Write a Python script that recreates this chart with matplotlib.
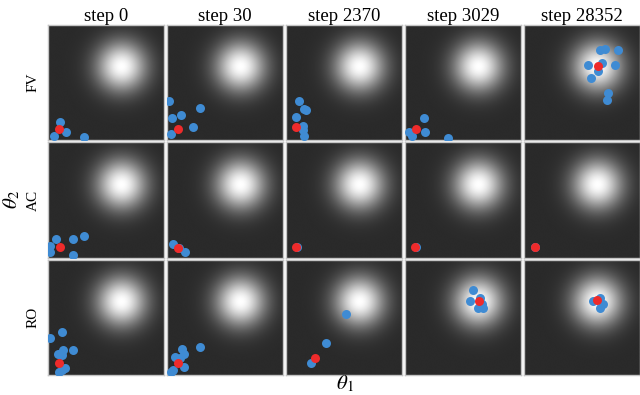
"""Particle positions over the reward landscape, three methods by five training steps."""

import matplotlib
matplotlib.use("Agg")
import matplotlib.pyplot as plt
import numpy as np

plt.rcParams["font.family"] = ["Liberation Serif", "DejaVu Serif"]
plt.rcParams["mathtext.fontset"] = "stix"

STEPS = ["step 0", "step 30", "step 2370", "step 3029", "step 28352"]
METHODS = ["FV", "AC", "RO"]

GOAL = (0.635, 0.635)      # centre of the bright reward bump
WIDTH = 0.15

BLUE, RED = "#3f8bd3", "#ee2b2b"

# blue particles, (theta1, theta2) per panel, rows = methods, columns = steps
BLUE_X = [
    [[0.10, 0.05, 0.15, 0.31],
     [0.01, 0.04, 0.12, 0.28, 0.22, 0.03],
     [0.11, 0.15, 0.17, 0.08, 0.14, 0.14, 0.155],
     [0.16, 0.17, 0.035, 0.06, 0.37],
     [0.655, 0.70, 0.81, 0.67, 0.55, 0.785, 0.64, 0.58, 0.725, 0.715]],
    [[0.063, 0.21, 0.31, 0.014, 0.014, 0.21],
     [0.05, 0.155, 0.10],
     [0.095], [0.095], [0.095]],
    [[0.12, 0.01, 0.13, 0.21, 0.08, 0.12, 0.12, 0.14, 0.095],
     [0.28, 0.13, 0.07, 0.14, 0.11, 0.14, 0.05, 0.03],
     [0.52, 0.34, 0.215],
     [0.585, 0.56, 0.645, 0.63, 0.67, 0.665],
     [0.595, 0.655, 0.68, 0.655]],
]
BLUE_Y = [
    [[0.16, 0.04, 0.07, 0.03],
     [0.34, 0.19, 0.22, 0.28, 0.11, 0.05],
     [0.34, 0.27, 0.26, 0.20, 0.12, 0.09, 0.035],
     [0.19, 0.07, 0.07, 0.035, 0.02],
     [0.785, 0.79, 0.785, 0.67, 0.65, 0.65, 0.60, 0.54, 0.41, 0.345]],
    [[0.165, 0.165, 0.19, 0.10, 0.045, 0.02],
     [0.12, 0.05, 0.085],
     [0.09], [0.09], [0.09]],
    [[0.37, 0.32, 0.22, 0.22, 0.18, 0.17, 0.04, 0.06, 0.03],
     [0.24, 0.23, 0.16, 0.18, 0.15, 0.07, 0.04, 0.03],
     [0.53, 0.28, 0.10],
     [0.74, 0.64, 0.67, 0.585, 0.585, 0.62],
     [0.64, 0.67, 0.62, 0.58]],
]
# red particle (the mean / leader) per panel
RED_X = [[0.095, 0.095, 0.085, 0.095, 0.64],
         [0.10, 0.095, 0.085, 0.085, 0.095],
         [0.095, 0.095, 0.25, 0.64, 0.63]]
RED_Y = [[0.095, 0.10, 0.11, 0.10, 0.64],
         [0.094, 0.085, 0.09, 0.09, 0.09],
         [0.10, 0.10, 0.15, 0.64, 0.65]]


def landscape(n=240):
    g = np.linspace(0, 1, n)
    xx, yy = np.meshgrid(g, g)
    r2 = (xx - GOAL[0]) ** 2 + (yy - GOAL[1]) ** 2
    return 0.165 + 0.835 * np.exp(-r2 / (2 * WIDTH ** 2))


def main():
    fig, axes = plt.subplots(3, 5, figsize=(6.4, 3.95), dpi=100)
    fig.subplots_adjust(left=48 / 640, right=1.0, top=1 - 25 / 395, bottom=1 - 375 / 395,
                        wspace=0.026, hspace=0.02)
    bg = landscape()
    for i in range(3):
        for j in range(5):
            ax = axes[i, j]
            ax.imshow(bg, cmap="gray", vmin=0, vmax=1, origin="lower",
                      extent=(0, 1, 0, 1), interpolation="bilinear")
            ax.scatter(BLUE_X[i][j], BLUE_Y[i][j], s=42, c=BLUE, linewidths=0, zorder=3)
            ax.scatter([RED_X[i][j]], [RED_Y[i][j]], s=42, c=RED, linewidths=0, zorder=4)
            ax.set_xlim(0, 1)
            ax.set_ylim(0, 1)
            ax.set_xticks([])
            ax.set_yticks([])
            for sp in ax.spines.values():
                sp.set_color("#c4c4c4")
                sp.set_linewidth(1.0)
            if i == 0:
                ax.set_title(STEPS[j], fontsize=13.5, pad=2)
        axes[i, 0].text(-0.13, 0.5, METHODS[i], transform=axes[i, 0].transAxes,
                        rotation=90, ha="center", va="center", fontsize=11)

    fig.text(12 / 640, 1 - 200 / 395, r"$\theta_2$", fontsize=15, rotation=90,
             ha="center", va="center")
    fig.text(345 / 640, 1 - 384 / 395, r"$\theta_1$", fontsize=15,
             ha="center", va="center")
    fig.savefig("out.png", dpi=100)
    plt.close(fig)


if __name__ == "__main__":
    main()
